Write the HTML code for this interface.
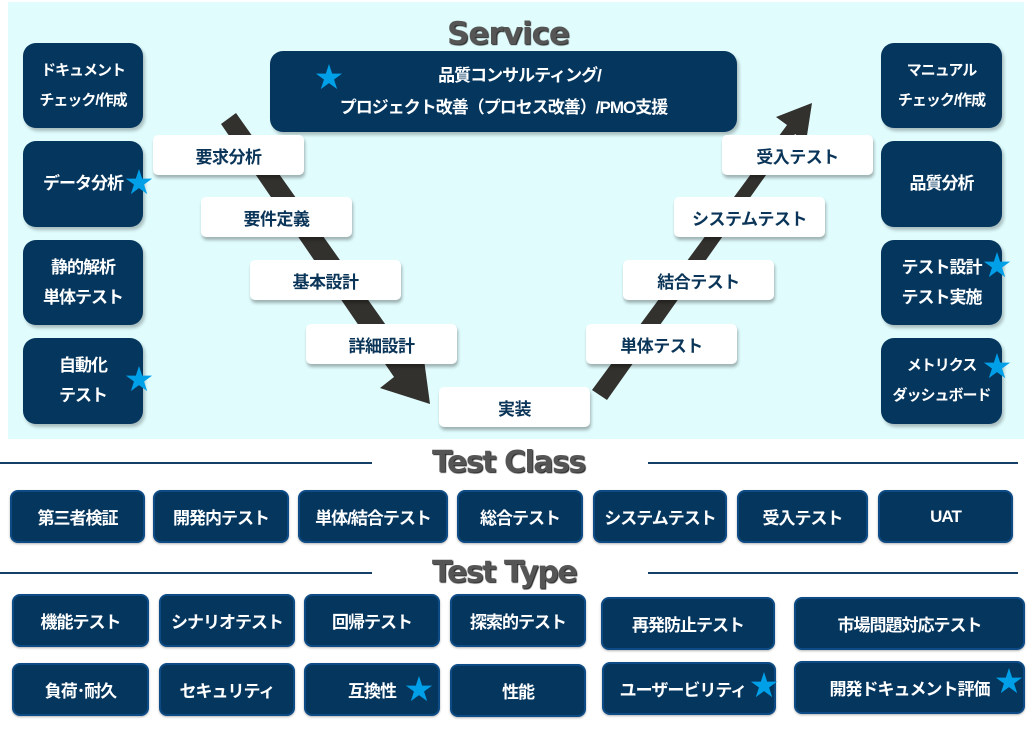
<!DOCTYPE html>
<html><head><meta charset="utf-8"><style>
*{margin:0;padding:0;box-sizing:border-box}
body{width:1032px;height:732px;background:#fff;position:relative;overflow:hidden;font-family:"Liberation Sans","Noto Sans CJK JP",sans-serif;font-weight:bold}
.bg{position:absolute;left:8px;top:2px;width:1016px;height:437px;background:#e0fcfd}
.d{position:absolute;background:#05365e;color:#fff;border-radius:13px;display:flex;flex-direction:column;align-items:center;justify-content:center;text-align:center;font-size:17px;line-height:30px;box-shadow:2px 3px 3px rgba(0,0,0,.25);letter-spacing:-1px}
.w{position:absolute;background:#fff;color:#0a3558;border-radius:5px;display:flex;align-items:center;justify-content:center;font-size:17px;width:151px;height:40px;box-shadow:1px 3px 3px rgba(0,0,0,.3);letter-spacing:-0.5px}
.b{position:absolute;background:#05365e;color:#fff;border:2px solid #0c4b85;border-radius:8px;display:flex;align-items:center;justify-content:center;font-size:17px;box-shadow:0 1px 2px rgba(0,0,0,.3);letter-spacing:-1px}
.t{position:absolute;color:#555;font-size:32px;text-shadow:1px 1px 1px #222;font-family:"DejaVu Sans","Liberation Sans",sans-serif}
.ln{position:absolute;height:2px;background:#143f66}
.s{position:absolute;color:#00a0e9;font-size:28px;line-height:28px}
</style></head><body>
<div class="bg"></div>
<svg style="position:absolute;left:0;top:0" width="1032" height="440">
<polygon points="221,124 236,113 412,362 423,352 430,404 380,388 394,377" fill="#33312e"/>
<polygon points="592,390 607,400 795,134 806,142 812,103 776,117 787,125" fill="#33312e"/>
</svg>
<div class="t" style="left:447px;top:16px;font-size:31px;letter-spacing:-1px">Service</div>
<div class="d" style="left:23px;top:43px;width:120px;height:85px;font-size:15px">ドキュメント<br>チェック/作成</div>
<div class="d" style="left:23px;top:141px;width:120px;height:86px">データ分析</div>
<div class="d" style="left:23px;top:240px;width:120px;height:85px">静的解析<br>単体テスト</div>
<div class="d" style="left:23px;top:338px;width:120px;height:86px">自動化<br>テスト</div>
<div class="d" style="left:881px;top:43px;width:121px;height:85px;font-size:15px">マニュアル<br>チェック/作成</div>
<div class="d" style="left:881px;top:141px;width:121px;height:86px">品質分析</div>
<div class="d" style="left:881px;top:240px;width:121px;height:85px">テスト設計<br>テスト実施</div>
<div class="d" style="left:881px;top:338px;width:121px;height:86px;font-size:15px">メトリクス<br>ダッシュボード</div>
<div class="d" style="left:270px;top:51px;width:467px;height:81px;font-size:17px;line-height:32px">　　品質コンサルティング/<br>プロジェクト改善（プロセス改善）/PMO支援</div>
<div class="s" style="left:315px;top:64px">★</div>
<div class="s" style="left:125px;top:169px">★</div>
<div class="s" style="left:125px;top:366px">★</div>
<div class="s" style="left:983px;top:252px">★</div>
<div class="s" style="left:983px;top:353px">★</div>
<div class="w" style="left:153px;top:135px">要求分析</div>
<div class="w" style="left:201px;top:197px">要件定義</div>
<div class="w" style="left:250px;top:260px">基本設計</div>
<div class="w" style="left:306px;top:324px">詳細設計</div>
<div class="w" style="left:439px;top:387px">実装</div>
<div class="w" style="left:586px;top:324px">単体テスト</div>
<div class="w" style="left:623px;top:260px">結合テスト</div>
<div class="w" style="left:674px;top:197px">システムテスト</div>
<div class="w" style="left:722px;top:135px">受入テスト</div>
<div class="ln" style="left:0;top:462px;width:372px"></div>
<div class="ln" style="left:648px;top:462px;width:370px"></div>
<div class="t" style="left:432px;top:445px;font-size:30px;letter-spacing:-1.5px">Test Class</div>
<div class="b" style="left:10px;top:490px;width:135px;height:53px">第三者検証</div>
<div class="b" style="left:153px;top:490px;width:136px;height:53px">開発内テスト</div>
<div class="b" style="left:298px;top:490px;width:150px;height:53px">単体/結合テスト</div>
<div class="b" style="left:457px;top:490px;width:126px;height:53px">総合テスト</div>
<div class="b" style="left:593px;top:490px;width:134px;height:53px">システムテスト</div>
<div class="b" style="left:737px;top:490px;width:131px;height:53px">受入テスト</div>
<div class="b" style="left:878px;top:490px;width:135px;height:53px">UAT</div>
<div class="ln" style="left:0;top:572px;width:372px"></div>
<div class="ln" style="left:648px;top:572px;width:370px"></div>
<div class="t" style="left:432px;top:555px;font-size:30px;letter-spacing:-1.5px">Test Type</div>
<div class="b" style="left:12px;top:594px;width:137px;height:53px">機能テスト</div>
<div class="b" style="left:159px;top:594px;width:136px;height:53px">シナリオテスト</div>
<div class="b" style="left:304px;top:594px;width:136px;height:53px">回帰テスト</div>
<div class="b" style="left:450px;top:594px;width:136px;height:53px">探索的テスト</div>
<div class="b" style="left:601px;top:597px;width:174px;height:53px">再発防止テスト</div>
<div class="b" style="left:794px;top:597px;width:231px;height:53px">市場問題対応テスト</div>
<div class="b" style="left:12px;top:663px;width:137px;height:53px">負荷･耐久</div>
<div class="b" style="left:159px;top:663px;width:136px;height:53px">セキュリティ</div>
<div class="b" style="left:304px;top:663px;width:136px;height:53px">互換性</div>
<div class="b" style="left:450px;top:664px;width:136px;height:53px">性能</div>
<div class="b" style="left:602px;top:662px;width:174px;height:53px;padding-right:12px">ユーザービリティ</div>
<div class="b" style="left:794px;top:661px;width:231px;height:53px">開発ドキュメント評価</div>
<div class="s" style="left:405px;top:676px">★</div>
<div class="s" style="left:750px;top:672px">★</div>
<div class="s" style="left:995px;top:668px">★</div>
</body></html>
